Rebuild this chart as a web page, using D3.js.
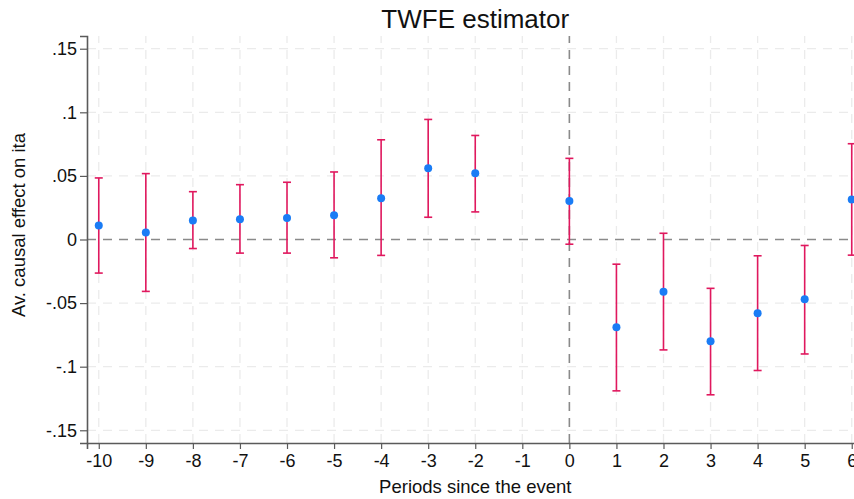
<!DOCTYPE html>
<html>
<head>
<meta charset="utf-8">
<script src="https://cdn.jsdelivr.net/npm/d3@7"></script>
<style>
	body { margin: 0; background: #fff; }
	svg { display: block; font-family: 'Liberation Sans', Arial, sans-serif; }
</style>
</head>
<body>
<script>
// Data
var periods = [-10, -9, -8, -7, -6, -5, -4, -3, -2, 0, 1, 2, 3, 4, 5, 6];
var estimates = [0.011, 0.0055, 0.015, 0.016, 0.017, 0.019, 0.0325, 0.056, 0.052, 0.0303, -0.069, -0.041, -0.080, -0.058, -0.047, 0.0314];
var ciLow = [-0.0264, -0.0408, -0.0071, -0.0107, -0.0107, -0.0144, -0.0125, 0.0175, 0.0217, -0.0037, -0.119, -0.0868, -0.1221, -0.103, -0.090, -0.0123];
var ciHigh = [0.0484, 0.0518, 0.0376, 0.0431, 0.045, 0.0531, 0.0784, 0.0944, 0.0818, 0.0638, -0.0194, 0.0049, -0.0384, -0.0128, -0.0047, 0.0753];
var xTicks = [-10, -9, -8, -7, -6, -5, -4, -3, -2, -1, 0, 1, 2, 3, 4, 5, 6];
var yTicks = [-0.15, -0.1, -0.05, 0, 0.05, 0.1, 0.15];
var yTickLabels = ['-.15', '-.1', '-.05', '0', '.05', '.1', '.15'];

var data = periods.map((p, i) => ({ p: p, est: estimates[i], lo: ciLow[i], hi: ciHigh[i] }));

// Set dimensions
var W = 854, H = 499;
var margin = { top: 36, left: 87, bottom: 56 };
var plotRight = 863.5; // plot region runs past the window edge

var x = d3.scaleLinear().domain([-10.25, 6.25]).range([margin.left, plotRight]);
var y = d3.scaleLinear().domain([-0.16, 0.16]).range([H - margin.bottom, margin.top]);

var svg = d3
	.select('body')
	.append('svg')
	.attr('width', W)
	.attr('height', H);

// Grid
svg.append('g')
	.selectAll('line')
	.data(yTicks)
	.enter()
	.append('line')
	.attr('x1', margin.left)
	.attr('x2', plotRight)
	.attr('y1', d => y(d))
	.attr('y2', d => y(d))
	.attr('stroke', d => (d === 0 ? '#8a8a8a' : '#ebebeb'))
	.attr('stroke-width', d => (d === 0 ? 1.6 : 1.3))
	.attr('stroke-dasharray', '9,7');

svg.append('g')
	.selectAll('line')
	.data(xTicks)
	.enter()
	.append('line')
	.attr('x1', d => x(d))
	.attr('x2', d => x(d))
	.attr('y1', y(-0.16))
	.attr('y2', y(0.16))
	.attr('stroke', d => (d === 0 ? '#8a8a8a' : '#ebebeb'))
	.attr('stroke-width', d => (d === 0 ? 1.6 : 1.3))
	.attr('stroke-dasharray', '9,7');

// Axes (plain hyphen for negatives, as in the original)
var xAxis = svg.append('g')
	.attr('transform', 'translate(0,' + (H - margin.bottom) + ')')
	.call(d3.axisBottom(x).tickValues(xTicks).tickSize(6).tickPadding(5).tickFormat(d => String(d)));

var yAxis = svg.append('g')
	.attr('transform', 'translate(' + margin.left + ',0)')
	.call(d3.axisLeft(y).tickValues(yTicks).tickSize(7).tickPadding(3).tickFormat((d, i) => yTickLabels[i]));

[xAxis, yAxis].forEach(a => {
	a.select('.domain').attr('stroke', '#5a5a5a').attr('stroke-width', 1.6);
	a.selectAll('.tick line').attr('stroke', '#5a5a5a').attr('stroke-width', 1.2);
	a.selectAll('.tick text')
		.attr('fill', '#111')
		.style('font-size', '18px')
		.style('font-family', "'Liberation Sans', Arial, sans-serif");
});

// Error bars
var bars = svg.append('g').selectAll('g').data(data).enter().append('g');
bars.append('line')
	.attr('x1', d => x(d.p))
	.attr('x2', d => x(d.p))
	.attr('y1', d => y(d.lo))
	.attr('y2', d => y(d.hi))
	.attr('stroke', '#e0185e')
	.attr('stroke-width', 1.6);
bars.selectAll('.cap')
	.data(d => [{ p: d.p, v: d.lo }, { p: d.p, v: d.hi }])
	.enter()
	.append('line')
	.attr('class', 'cap')
	.attr('x1', d => x(d.p) - 4)
	.attr('x2', d => x(d.p) + 4)
	.attr('y1', d => y(d.v))
	.attr('y2', d => y(d.v))
	.attr('stroke', '#e0185e')
	.attr('stroke-width', 1.6);

// Point estimates
svg.append('g')
	.selectAll('circle')
	.data(data)
	.enter()
	.append('circle')
	.attr('cx', d => x(d.p))
	.attr('cy', d => y(d.est))
	.attr('r', 4)
	.attr('fill', '#1a7cf5');

// Title and labels
svg.append('text')
	.attr('x', (margin.left + plotRight) / 2)
	.attr('y', 28)
	.attr('text-anchor', 'middle')
	.style('font-size', '26px')
	.attr('fill', '#111')
	.text('TWFE estimator');

svg.append('text')
	.attr('x', (margin.left + plotRight) / 2)
	.attr('y', 493)
	.attr('text-anchor', 'middle')
	.style('font-size', '18.5px')
	.attr('fill', '#111')
	.text('Periods since the event');

svg.append('text')
	.attr('transform', 'rotate(-90)')
	.attr('x', -225)
	.attr('y', 25)
	.attr('text-anchor', 'middle')
	.style('font-size', '18.5px')
	.attr('fill', '#111')
	.text('Av. causal effect on ita');
</script>
</body>
</html>
